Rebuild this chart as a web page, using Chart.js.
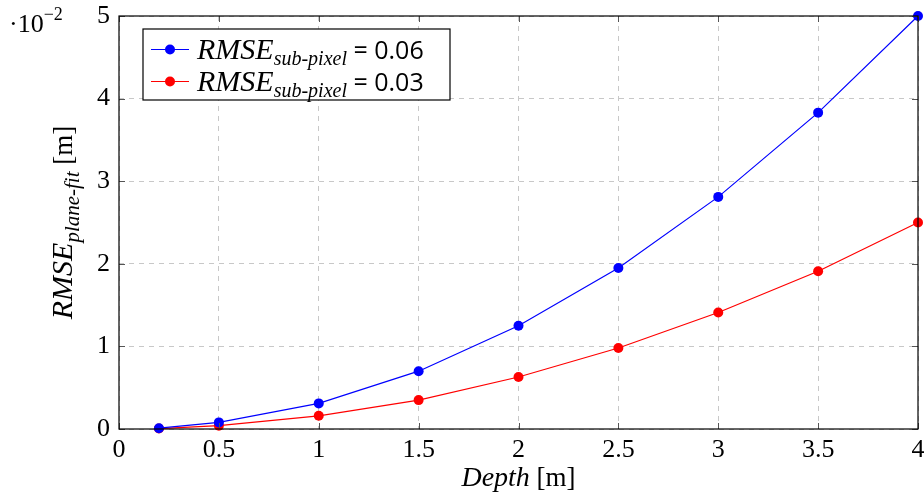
<!DOCTYPE html>
<html>
<head>
<meta charset="utf-8">
<script src="https://cdn.jsdelivr.net/npm/chart.js@4"></script>
<style>
  html, body { margin: 0; padding: 0; background: #fff; }
  #wrap { width: 924px; height: 501px; }
</style>
</head>
<body>
<div id="wrap"><canvas id="chart" width="924" height="501"></canvas></div>
<script>
// depth values [m]
const depths = [0.2, 0.5, 1, 1.5, 2, 2.5, 3, 3.5, 4];
// RMSE plane-fit, in units of 10^-2 m
const rmseSub006 = [0.01, 0.08, 0.31, 0.70, 1.25, 1.95, 2.81, 3.83, 5.0];
const rmseSub003 = [0.005, 0.04, 0.16, 0.35, 0.63, 0.98, 1.41, 1.91, 2.5];
const seriesLabels = ['0.06', '0.03'];
const seriesColors = ['#0000ff', '#ff0000'];
const xTicks = [0, 0.5, 1, 1.5, 2, 2.5, 3, 3.5, 4];
const yTicks = [0, 1, 2, 3, 4, 5];

const serif = '"Liberation Serif", "DejaVu Serif", serif';
const sans = '"Open Sans", "DejaVu Sans", sans-serif';

function toPoints(xs, ys) {
  return xs.map((x, i) => ({ x: x, y: ys[i] }));
}

// draws a run of [text, font, dy] pieces left to right
function drawRuns(ctx, runs, x, y) {
  runs.forEach(r => {
    ctx.font = r[1];
    ctx.fillText(r[0], x, y + (r[2] || 0));
    x += ctx.measureText(r[0]).width;
  });
  return x;
}
function runsWidth(ctx, runs) {
  let w = 0;
  runs.forEach(r => { ctx.font = r[1]; w += ctx.measureText(r[0]).width; });
  return w;
}

const decorPlugin = {
  id: 'decor',
  afterDraw(chart) {
    const ctx = chart.ctx;
    const a = chart.chartArea;
    const xs = chart.scales.x, ys = chart.scales.y;
    ctx.save();

    // inward tick marks on all four sides
    ctx.strokeStyle = '#555';
    ctx.lineWidth = 1;
    ctx.beginPath();
    xTicks.forEach(v => {
      const px = Math.round(xs.getPixelForValue(v)) + 0.5;
      ctx.moveTo(px, a.bottom); ctx.lineTo(px, a.bottom - 6);
      ctx.moveTo(px, a.top); ctx.lineTo(px, a.top + 6);
    });
    yTicks.forEach(v => {
      const py = Math.round(ys.getPixelForValue(v)) + 0.5;
      ctx.moveTo(a.left, py); ctx.lineTo(a.left + 6, py);
      ctx.moveTo(a.right, py); ctx.lineTo(a.right - 6, py);
    });
    ctx.stroke();

    // frame
    ctx.strokeStyle = '#000';
    ctx.lineWidth = 1.2;
    ctx.strokeRect(a.left, a.top, a.right - a.left, a.bottom - a.top);

    ctx.fillStyle = '#000';
    ctx.textBaseline = 'alphabetic';

    // ·10^-2
    drawRuns(ctx, [['·10', '26px ' + serif], ['−2', '18px ' + serif, -12]], 9, 32);

    // x axis title
    const xRuns = [['Depth', 'italic 28px ' + serif], [' [m]', '27px ' + serif]];
    const xw = runsWidth(ctx, xRuns);
    drawRuns(ctx, xRuns, (a.left + a.right) / 2 - xw / 2, 486);

    // y axis title, rotated
    const yRuns = [['RMSE', 'italic 30px ' + serif], ['plane-fit', 'italic 21px ' + serif, 7], [' [m]', '27px ' + serif]];
    const yw = runsWidth(ctx, yRuns);
    ctx.save();
    ctx.translate(72, (a.top + a.bottom) / 2);
    ctx.rotate(-Math.PI / 2);
    drawRuns(ctx, yRuns, -yw / 2, 0);
    ctx.restore();

    // legend box
    const lx = 143, ly = 29, lw = 307, lh = 71;
    ctx.fillStyle = '#fff';
    ctx.fillRect(lx, ly, lw, lh);
    ctx.strokeStyle = '#000';
    ctx.lineWidth = 1.2;
    ctx.strokeRect(lx, ly, lw, lh);
    const rowsY = [49, 81];
    seriesLabels.forEach((lab, i) => {
      const cy = rowsY[i];
      ctx.strokeStyle = seriesColors[i];
      ctx.lineWidth = 1;
      ctx.beginPath();
      ctx.moveTo(151, cy + 0.5); ctx.lineTo(189, cy + 0.5);
      ctx.stroke();
      ctx.fillStyle = seriesColors[i];
      ctx.beginPath();
      ctx.arc(170, cy + 0.5, 5, 0, Math.PI * 2);
      ctx.fill();
      ctx.fillStyle = '#000';
      drawRuns(ctx, [
        ['RMSE', 'italic 30px ' + serif, 0],
        ['sub-pixel', 'italic 20px ' + serif, 6],
        [' = ' + lab, '25px ' + sans, 0]
      ], 197, cy + 10);
    });

    ctx.restore();
  }
};

new Chart(document.getElementById('chart'), {
  type: 'line',
  data: {
    datasets: [
      { label: 'RMSE sub-pixel = ' + seriesLabels[0], data: toPoints(depths, rmseSub006) },
      { label: 'RMSE sub-pixel = ' + seriesLabels[1], data: toPoints(depths, rmseSub003) }
    ].map((d, i) => Object.assign(d, {
      borderColor: seriesColors[i],
      backgroundColor: seriesColors[i],
      pointBackgroundColor: seriesColors[i],
      pointBorderWidth: 0,
      pointRadius: 5,
      borderWidth: 1.2,
      tension: 0,
      clip: false
    }))
  },
  options: {
    responsive: false,
    animation: false,
    layout: { padding: { top: 16, right: 6, left: 0, bottom: 0 } },
    plugins: { legend: { display: false }, tooltip: { enabled: false } },
    scales: {
      x: {
        type: 'linear',
        min: 0, max: 4,
        afterBuildTicks: s => { s.ticks = xTicks.map(v => ({ value: v })); },
        afterFit: s => { s.height = 72; s.paddingLeft = 0; s.paddingRight = 0; },
        ticks: {
          color: '#000',
          font: { family: serif, size: 26 },
          padding: 6,
          maxRotation: 0,
          callback: v => String(v)
        },
        grid: { color: '#c8c8c8', lineWidth: 1, tickLength: 0, drawTicks: false },
        border: { display: false, dash: [5, 5] }
      },
      y: {
        type: 'linear',
        min: 0, max: 5,
        afterBuildTicks: s => { s.ticks = yTicks.map(v => ({ value: v })); },
        afterFit: s => { s.width = 119; s.paddingTop = 0; s.paddingBottom = 0; },
        ticks: {
          color: '#000',
          font: { family: serif, size: 26 },
          padding: 9,
          callback: v => String(v)
        },
        grid: { color: '#c8c8c8', lineWidth: 1, tickLength: 0, drawTicks: false },
        border: { display: false, dash: [5, 5] }
      }
    }
  },
  plugins: [decorPlugin]
});
</script>
</body>
</html>
